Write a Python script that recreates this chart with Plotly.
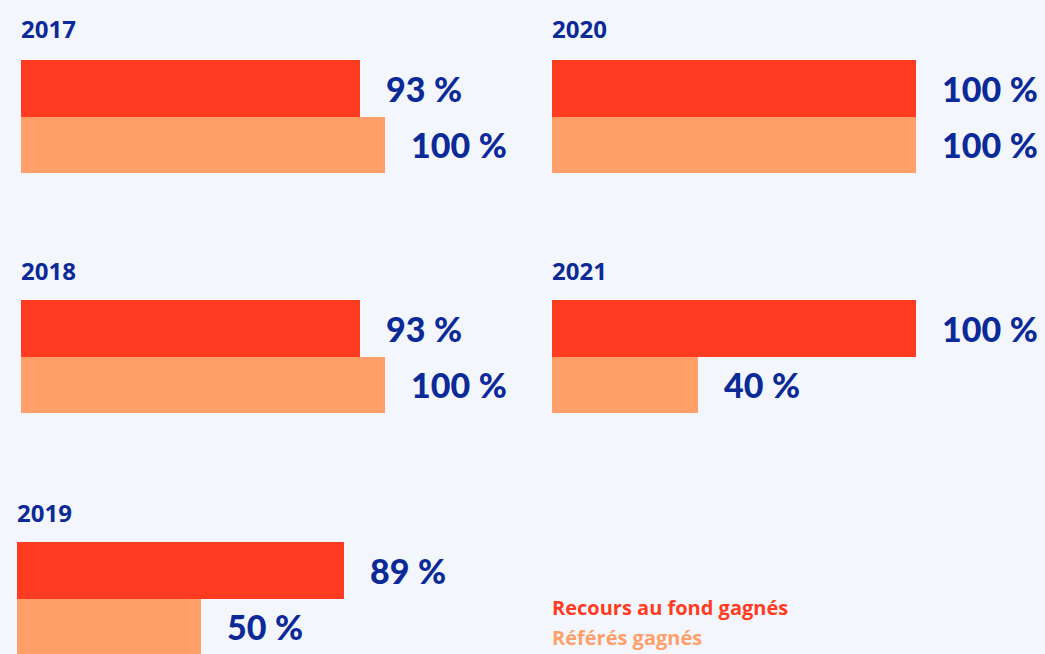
import plotly.graph_objects as go

# Share of cases won, per year
years = ["2017", "2018", "2019", "2020", "2021"]
recours_fond = [93, 93, 89, 100, 100]   # Recours au fond gagnés
referes = [100, 100, 50, 100, 40]       # Référés gagnés

series_names = ["Recours au fond gagnés", "Référés gagnés"]
RED = "#FF3B21"
PEACH = "#FFA06A"
NAVY = "#0B2A97"
BG = "#F3F7FD"

W, H = 1045, 654

# panel placement in pixels: (left, right edge at 100 %, top of bars, bottom of bars, title y)
panels = {
    "2017": (21, 385, 60, 173, 28),
    "2020": (552, 916, 60, 173, 28),
    "2018": (21, 385, 300, 413, 270),
    "2021": (552, 916, 300, 413, 270),
    "2019": (17, 384, 542, 655, 512),
}

fig = go.Figure()
annotations = []
layout_axes = {}

for i, year in enumerate(years):
    idx = years.index(year)
    left, right, top, bottom, title_y = panels[year]
    n = i + 1
    xa = "x" if n == 1 else f"x{n}"
    ya = "y" if n == 1 else f"y{n}"
    xkey = "xaxis" if n == 1 else f"xaxis{n}"
    ykey = "yaxis" if n == 1 else f"yaxis{n}"

    vals = [recours_fond[idx], referes[idx]]
    colors = [RED, PEACH]
    ypos = [1, 0]
    for v, c, yp, name in zip(vals, colors, ypos, series_names):
        fig.add_trace(go.Bar(
            x=[v], y=[yp], orientation="h", width=1,
            marker=dict(color=c, line=dict(width=0)),
            xaxis=xa, yaxis=ya, showlegend=False, name=name,
            hoverinfo="skip",
        ))
        annotations.append(dict(
            x=v, y=yp, xref=xa, yref=ya, xanchor="left", yanchor="middle",
            xshift=24, text=f"{v}\u202f%", showarrow=False,
            font=dict(family="Lato", size=34, color=NAVY, weight=900),
        ))

    # y domain: clip anything below the page edge
    bar_h = (bottom - top) / 2.0
    y_bottom_px = min(bottom, H)
    y_lo = 1.5 - (y_bottom_px - top) / bar_h
    layout_axes[xkey] = dict(
        domain=[left / W, right / W], range=[0, 100],
        visible=False, fixedrange=True, anchor=ya,
    )
    layout_axes[ykey] = dict(
        domain=[1 - y_bottom_px / H, 1 - top / H], range=[y_lo, 1.5],
        visible=False, fixedrange=True, anchor=xa,
    )
    annotations.append(dict(
        x=left / W, y=1 - title_y / H, xref="paper", yref="paper",
        xanchor="left", yanchor="middle", xshift=-2, text=f"<b>{year}</b>",
        showarrow=False, font=dict(family="Open Sans", size=24, color=NAVY),
    ))

# legend entries as coloured labels
for name, color, ly in zip(series_names, [RED, PEACH], [607, 637]):
    annotations.append(dict(
        x=552 / W, y=1 - ly / H, xref="paper", yref="paper",
        xanchor="left", yanchor="middle", xshift=-2, text=f"<b>{name}</b>",
        showarrow=False, font=dict(family="Open Sans", size=20, color=color),
    ))

fig.update_layout(
    width=W, height=H,
    margin=dict(l=0, r=0, t=0, b=0),
    paper_bgcolor=BG, plot_bgcolor=BG,
    barmode="overlay", bargap=0,
    annotations=annotations,
    showlegend=False,
    **layout_axes,
)

fig.write_html("out.html", config={"displayModeBar": False})
